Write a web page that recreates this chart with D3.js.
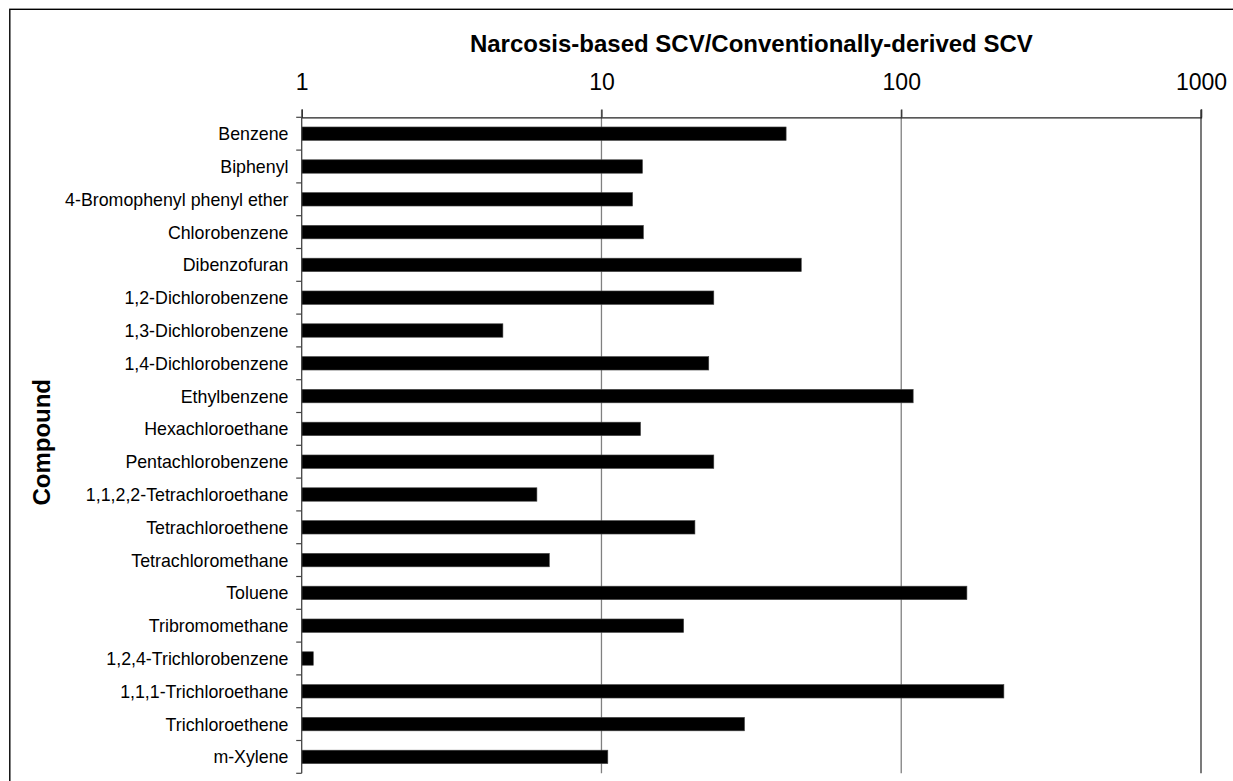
<!DOCTYPE html>
<html>
<head>
<meta charset="utf-8">
<script src="https://cdn.jsdelivr.net/npm/d3@7"></script>
<style>
  html, body { margin: 0; padding: 0; background: #fff; }
  svg { display: block; }
  text { font-family: "Liberation Sans", Arial, sans-serif; fill: #000; }
</style>
</head>
<body>
<svg id="chart" width="1233" height="781"></svg>
<script>
const compounds = [
  "Benzene", "Biphenyl", "4-Bromophenyl phenyl ether", "Chlorobenzene", "Dibenzofuran",
  "1,2-Dichlorobenzene", "1,3-Dichlorobenzene", "1,4-Dichlorobenzene", "Ethylbenzene",
  "Hexachloroethane", "Pentachlorobenzene", "1,1,2,2-Tetrachloroethane", "Tetrachloroethene",
  "Tetrachloromethane", "Toluene", "Tribromomethane", "1,2,4-Trichlorobenzene",
  "1,1,1-Trichloroethane", "Trichloroethene", "m-Xylene"
];
const ratios = [
  41.3, 13.7, 12.7, 13.8, 46.4,
  23.7, 4.69, 22.8, 109.6,
  13.5, 23.7, 6.09, 20.5,
  6.70, 165.6, 18.8, 1.093,
  220, 30.0, 10.5
];
const tickValues = [1, 10, 100, 1000];
const titleText = "Narcosis-based SCV/Conventionally-derived SCV";
const yTitleText = "Compound";

(function draw() {
  const svg = d3.select("#chart");
  const pLeft = 301.7, pRight = 1201, pTop = 117.3, pBottom = 773.3;

  // outer border
  svg.append("rect")
    .attr("x", 9.8).attr("y", 9.3)
    .attr("width", 1300).attr("height", 900)
    .attr("fill", "none").attr("stroke", "#000").attr("stroke-width", 1.4);

  const x = d3.scaleLog().domain([1, 1000]).range([pLeft, pRight]);
  const y = d3.scaleBand().domain(compounds).range([pTop, pBottom])
    .paddingInner(0.59).paddingOuter(0.295);

  // gridlines
  svg.append("g").selectAll("line")
    .data(tickValues.filter(d => d > 1 && d < 1000))
    .join("line")
    .attr("x1", d => x(d)).attr("x2", d => x(d))
    .attr("y1", pTop - 7.5).attr("y2", pBottom)
    .attr("stroke", "#808080").attr("stroke-width", 1.3);

  // right border line at 1000
  svg.append("line")
    .attr("x1", x(1000)).attr("x2", x(1000))
    .attr("y1", pTop - 7.5).attr("y2", pBottom)
    .attr("stroke", "#333").attr("stroke-width", 1.3);

  // bars
  svg.append("g").selectAll("rect")
    .data(compounds.map((c, i) => ({c, v: ratios[i]})))
    .join("rect")
    .attr("x", x(1))
    .attr("y", d => y(d.c))
    .attr("width", d => x(d.v) - x(1))
    .attr("height", y.bandwidth())
    .attr("fill", "#000")
    .attr("stroke", "#444").attr("stroke-width", 0.6);

  // top axis
  const xAxis = d3.axisTop(x).tickValues(tickValues).tickFormat(d3.format("d"))
    .tickSize(7.8).tickPadding(20);
  const gx = svg.append("g").attr("transform", `translate(0,${pTop})`).call(xAxis);
  gx.select(".domain").attr("stroke", "#222").attr("stroke-width", 1.3);
  gx.selectAll(".tick line").attr("stroke", "#333").attr("stroke-width", 1.3);
  gx.selectAll(".tick text")
    .attr("font-size", 23).attr("font-family", "Liberation Sans, Arial, sans-serif")
    .attr("fill", "#000");

  // left axis with ticks at band boundaries
  const boundaries = compounds.map(c => y(c) - y.step() * y.paddingInner() / 2);
  boundaries.push(pBottom);
  svg.append("line")
    .attr("x1", pLeft).attr("x2", pLeft).attr("y1", pTop).attr("y2", pBottom)
    .attr("stroke", "#444").attr("stroke-width", 1.3);
  svg.append("g").selectAll("line")
    .data(boundaries)
    .join("line")
    .attr("x1", pLeft - 5.5).attr("x2", pLeft)
    .attr("y1", d => d).attr("y2", d => d)
    .attr("stroke", "#444").attr("stroke-width", 1.2);

  // category labels
  svg.append("g").selectAll("text")
    .data(compounds)
    .join("text")
    .attr("x", 288.5)
    .attr("y", d => y(d) + y.bandwidth() / 2)
    .attr("dy", "0.36em")
    .attr("text-anchor", "end")
    .attr("font-size", 17.8)
    .text(d => d);

  // titles
  svg.append("text")
    .attr("x", (pLeft + pRight) / 2).attr("y", 51.5)
    .attr("text-anchor", "middle")
    .attr("font-size", 24).attr("font-weight", "bold")
    .text(titleText);

  svg.append("text")
    .attr("transform", `translate(50,${(pTop + pBottom) / 2 - 3}) rotate(-90)`)
    .attr("text-anchor", "middle")
    .attr("font-size", 24).attr("font-weight", "bold")
    .text(yTitleText);
})();
</script>
</body>
</html>
